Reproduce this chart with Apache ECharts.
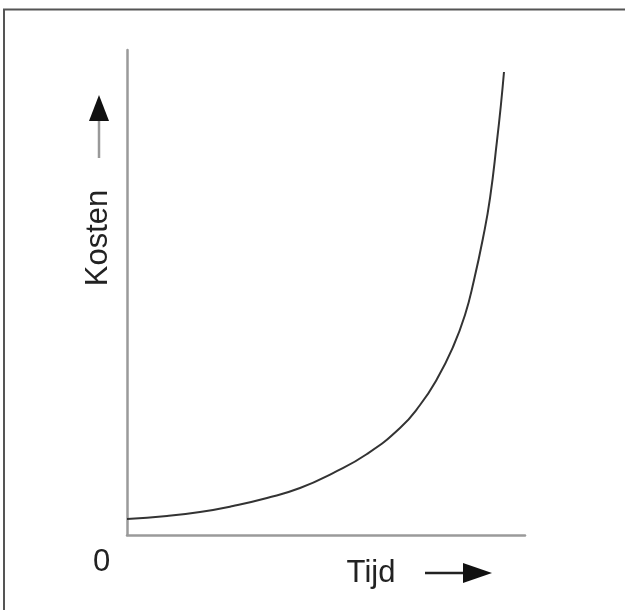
<!DOCTYPE html>
<html>
<head>
<meta charset="utf-8">
<script src="https://cdn.jsdelivr.net/npm/echarts@6/dist/echarts.min.js"></script>
<style>html,body{margin:0;padding:0;background:#fff;}#c{width:625px;height:610px;}</style>
</head>
<body>
<div id="c"></div>
<script>
var tijd = [0, 10.05, 18.34, 26.63, 35.18, 43.47, 51.76, 60.30, 68.59, 73.62, 77.89, 81.91, 84.92, 87.19, 89.45, 91.21, 92.96, 93.97, 94.72];
var kosten = [3.30, 3.92, 4.74, 5.98, 7.63, 9.69, 12.78, 16.70, 22.06, 26.80, 32.16, 38.76, 45.36, 52.58, 61.24, 69.48, 81.24, 88.87, 95.46];
var xLabel = 'Tijd';
var yLabel = 'Kosten';
var originLabel = '0';

var chart = echarts.init(document.getElementById('c'), null, {renderer: 'canvas'});
var font = '"Liberation Sans", Arial, sans-serif';
var axisStyle = {show: true, onZero: false, lineStyle: {color: '#9a9a9a', width: 2.5}};
chart.setOption({
  animation: false,
  backgroundColor: '#ffffff',
  grid: {left: 127, right: 100, top: 50, bottom: 75},
  xAxis: {type: 'value', min: 0, max: 100, axisLine: axisStyle, axisTick: {show: false}, axisLabel: {show: false}, splitLine: {show: false}},
  yAxis: {type: 'value', min: 0, max: 100, axisLine: axisStyle, axisTick: {show: false}, axisLabel: {show: false}, splitLine: {show: false}},
  series: [{
    type: 'line',
    data: tijd.map(function (t, i) { return [t, kosten[i]]; }),
    smooth: 0.5,
    showSymbol: false,
    symbol: 'none',
    lineStyle: {color: '#333333', width: 2}
  }],
  graphic: [
    {type: 'polyline', shape: {points: [[4, 610], [4, 9.5], [625, 9.5]]}, style: {stroke: '#555555', lineWidth: 2, fill: null}},
    {type: 'text', x: 98.5, y: 238, rotation: Math.PI / 2, style: {text: yLabel, font: '31px ' + font, fill: '#222', align: 'center', verticalAlign: 'middle'}},
    {type: 'line', shape: {x1: 99, y1: 158, x2: 99, y2: 118}, style: {stroke: '#999', lineWidth: 2.5}},
    {type: 'polygon', shape: {points: [[89, 121], [109, 121], [99, 95]]}, style: {fill: '#111'}},
    {type: 'text', x: 371, y: 573, style: {text: xLabel, font: '31px ' + font, fill: '#222', align: 'center', verticalAlign: 'middle'}},
    {type: 'line', shape: {x1: 425, y1: 573, x2: 466, y2: 573}, style: {stroke: '#222', lineWidth: 2.5}},
    {type: 'polygon', shape: {points: [[463, 563], [463, 583], [492, 573]]}, style: {fill: '#111'}},
    {type: 'text', x: 101.5, y: 562, style: {text: originLabel, font: '31px ' + font, fill: '#222', align: 'center', verticalAlign: 'middle'}}
  ]
});
</script>
</body>
</html>
